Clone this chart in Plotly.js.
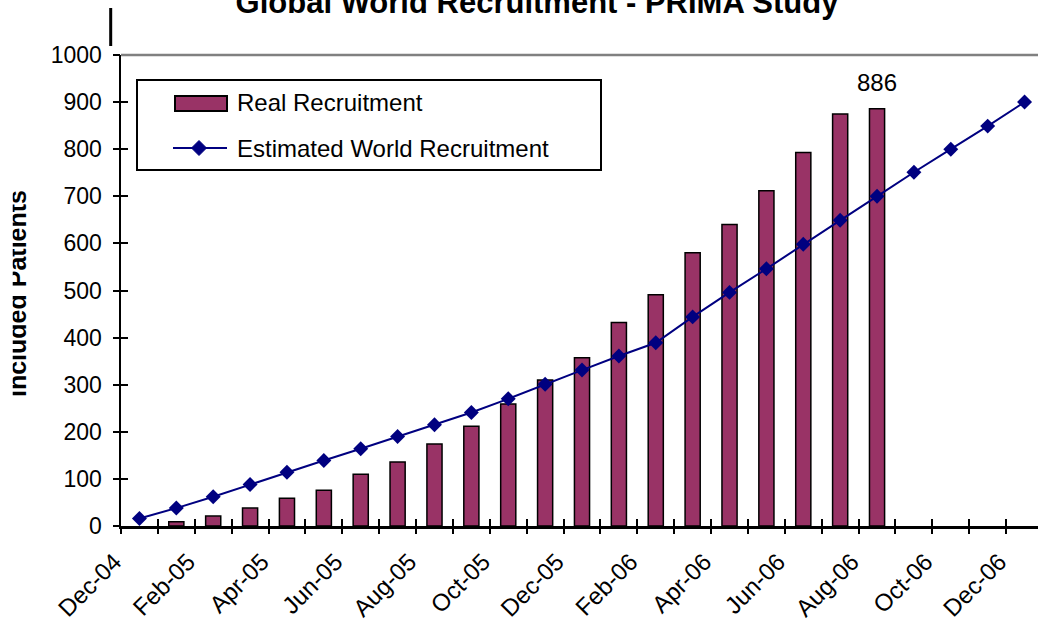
<!DOCTYPE html>
<html>
<head>
<meta charset="utf-8">
<script src="https://cdn.plot.ly/plotly-3.0.1.min.js"></script>
<style>
  html, body { margin: 0; padding: 0; background: #ffffff; overflow: hidden; }
  #chart { width: 1038px; height: 627px; }
</style>
</head>
<body>
<div id="chart"></div>
<script>
// ---- Data ----
const months = ['Dec-04','Jan-05','Feb-05','Mar-05','Apr-05','May-05','Jun-05','Jul-05','Aug-05','Sep-05','Oct-05','Nov-05',
                'Dec-05','Jan-06','Feb-06','Mar-06','Apr-06','May-06','Jun-06','Jul-06','Aug-06','Sep-06','Oct-06','Nov-06','Dec-06'];
const realRecruitment = [null, 9, 21, 38, 59, 76, 110, 136, 174, 212, 259, 310,
                         357, 432, 491, 580, 640, 712, 793, 875, 886, null, null, null, null];
const estimatedRecruitment = [16, 38, 62, 88, 114, 139, 164, 190, 215, 241, 270, 301,
                              331, 361, 389, 444, 496, 546, 598, 649, 700, 751, 800, 849, 900];
const yTickValues = [0, 100, 200, 300, 400, 500, 600, 700, 800, 900, 1000];
const seriesNames = ['Real Recruitment', 'Estimated World Recruitment'];
const chartTitle = 'Global World Recruitment - PRIMA Study';
const yTitle = 'Included Patients';

// ---- Style ----
const FONT = '"Liberation Sans", Arial, sans-serif';
const BAR_COLOR = '#993366';
const LINE_COLOR = '#000080';
const W = 1038, H = 627;
const M = { l: 121, r: 0, t: 55, b: 101 };
const PW = W - M.l - M.r, PH = H - M.t - M.b;
const px2x = (px) => (px - M.l) / PW;
const px2y = (py) => (H - M.b - py) / PH;
const TICK = 7;

// month positions on the (linear) category scale
const monthIdx = months.map((_, i) => i);
const labelIdx = monthIdx.filter(i => i % 2 === 0);
const labelText = labelIdx.map(i => months[i]);
const boundaries = monthIdx.map(i => i - 0.5);
const xRange = [-0.5, months.length - 0.5 - 5 / 36.875];

// last real value for the data label
let lastIdx = -1;
realRecruitment.forEach((v, i) => { if (v !== null) lastIdx = i; });

const traces = [
  {
    type: 'bar', name: seriesNames[0], x: monthIdx, y: realRecruitment,
    width: 0.41, customdata: months,
    marker: { color: BAR_COLOR, line: { color: '#000000', width: 1.5 } },
    showlegend: false, hovertemplate: '%{customdata}: %{y}<extra></extra>'
  },
  {
    type: 'scatter', mode: 'lines+markers', name: seriesNames[1], x: monthIdx, y: estimatedRecruitment,
    customdata: months,
    line: { color: LINE_COLOR, width: 2 },
    marker: { symbol: 'diamond', size: 11.5, color: LINE_COLOR },
    showlegend: false, cliponaxis: false, hovertemplate: '%{customdata}: %{y}<extra></extra>'
  },
  // invisible helpers so the overlay axes (outer tick halves, month labels) get drawn
  { type: 'scatter', mode: 'markers', x: [0], y: [0], xaxis: 'x2', yaxis: 'y',
    marker: { opacity: 0 }, showlegend: false, hoverinfo: 'skip' },
  { type: 'scatter', mode: 'markers', x: [0], y: [0], xaxis: 'x3', yaxis: 'y',
    marker: { opacity: 0 }, showlegend: false, hoverinfo: 'skip' },
  { type: 'scatter', mode: 'markers', x: [0], y: [0], xaxis: 'x', yaxis: 'y2',
    marker: { opacity: 0 }, showlegend: false, hoverinfo: 'skip' }
];

const layout = {
  width: W, height: H,
  margin: M,
  paper_bgcolor: '#ffffff', plot_bgcolor: '#ffffff',
  font: { family: FONT, color: '#000000', size: 23 },
  showlegend: false,
  bargap: 0,
  title: {
    text: '<b>' + chartTitle + '</b>',
    font: { family: FONT, size: 31, color: '#000000' },
    xref: 'container', yref: 'container',
    x: 537 / W, xanchor: 'center',
    y: 1 - 2.5 / H, yanchor: 'middle'
  },
  // main x axis: line + inner half of the tick marks at month boundaries
  xaxis: {
    type: 'linear', range: xRange, autorange: false,
    tickmode: 'array', tickvals: boundaries, showticklabels: false,
    ticks: 'inside', ticklen: TICK, tickwidth: 2, tickcolor: '#000000',
    showline: true, linecolor: '#000000', linewidth: 2.5,
    showgrid: false, zeroline: false, fixedrange: true
  },
  // outer half of the tick marks
  xaxis2: {
    overlaying: 'x', anchor: 'y', side: 'bottom', type: 'linear', range: xRange, autorange: false,
    tickmode: 'array', tickvals: boundaries, showticklabels: false,
    ticks: 'outside', ticklen: TICK, tickwidth: 2, tickcolor: '#000000',
    showline: false, showgrid: false, zeroline: false, fixedrange: true
  },
  // month labels, every second month
  xaxis3: {
    overlaying: 'x', anchor: 'y', side: 'bottom', type: 'linear', range: xRange, autorange: false,
    tickmode: 'array', tickvals: labelIdx, ticktext: labelText, ticks: '', tickangle: -45,
    tickfont: { family: FONT, size: 24, color: '#000000' },
    ticklabelstandoff: 16, ticklabelshift: -25,
    showline: false, showgrid: false, zeroline: false, fixedrange: true
  },
  yaxis: {
    range: [0, 1000], autorange: false, tickmode: 'array', tickvals: yTickValues,
    ticks: 'inside', ticklen: TICK, tickwidth: 2, tickcolor: '#000000',
    tickfont: { family: FONT, size: 23, color: '#000000' },
    ticklabelstandoff: 12,
    showline: true, linecolor: '#000000', linewidth: 2.5,
    showgrid: false, zeroline: false, fixedrange: true
  },
  yaxis2: {
    overlaying: 'y', anchor: 'x', side: 'left',
    range: [0, 1000], autorange: false, tickmode: 'array', tickvals: yTickValues,
    ticks: 'outside', ticklen: TICK, tickwidth: 2, tickcolor: '#000000',
    showticklabels: false, showgrid: false, zeroline: false, showline: false, fixedrange: true
  },
  shapes: [
    // gray top border of plot area
    { type: 'line', xref: 'paper', yref: 'paper', x0: 0, x1: 1, y0: 1, y1: 1,
      line: { color: '#808080', width: 2.5 }, layer: 'below' },
    // stray vertical bar (text cursor) seen above the y axis
    { type: 'line', xref: 'paper', yref: 'paper', x0: px2x(110.7), x1: px2x(110.7), y0: px2y(46), y1: px2y(8),
      line: { color: '#000000', width: 3 } },
    // legend box
    { type: 'rect', xref: 'paper', yref: 'paper', x0: px2x(137), x1: px2x(601), y0: px2y(170), y1: px2y(80),
      line: { color: '#000000', width: 2 }, fillcolor: '#ffffff', layer: 'above' },
    // legend: bar swatch
    { type: 'rect', xref: 'paper', yref: 'paper', x0: px2x(175), x1: px2x(227), y0: px2y(111), y1: px2y(96),
      line: { color: '#000000', width: 2 }, fillcolor: BAR_COLOR, layer: 'above' },
    // legend: line swatch
    { type: 'line', xref: 'paper', yref: 'paper', x0: px2x(173), x1: px2x(227), y0: px2y(148), y1: px2y(148),
      line: { color: LINE_COLOR, width: 2 }, layer: 'above' },
    // legend: diamond marker
    { type: 'path', xref: 'paper', yref: 'paper', layer: 'above',
      path: 'M ' + px2x(199) + ',' + px2y(140.5) + ' L ' + px2x(206.5) + ',' + px2y(148) +
            ' L ' + px2x(199) + ',' + px2y(155.5) + ' L ' + px2x(191.5) + ',' + px2y(148) + ' Z',
      fillcolor: LINE_COLOR, line: { color: LINE_COLOR, width: 1 } }
  ],
  annotations: [
    { xref: 'paper', yref: 'paper', x: px2x(235), y: px2y(103), xanchor: 'left', yanchor: 'middle',
      text: seriesNames[0], showarrow: false, font: { family: FONT, size: 24, color: '#000000' } },
    { xref: 'paper', yref: 'paper', x: px2x(235), y: px2y(148), xanchor: 'left', yanchor: 'middle',
      text: seriesNames[1], showarrow: false, font: { family: FONT, size: 24, color: '#000000' } },
    // data label above the last real bar
    { xref: 'x', yref: 'y', x: lastIdx, y: realRecruitment[lastIdx], xanchor: 'center', yanchor: 'bottom',
      yshift: 11, text: String(realRecruitment[lastIdx]), showarrow: false,
      font: { family: FONT, size: 24, color: '#000000' } },
    // y axis title
    { xref: 'paper', yref: 'paper', x: px2x(17), y: px2y(294), xanchor: 'center', yanchor: 'middle',
      text: '<b>' + yTitle + '</b>', textangle: -90, showarrow: false,
      font: { family: FONT, size: 25, color: '#000000' } }
  ]
};

Plotly.newPlot('chart', traces, layout, { displayModeBar: false, staticPlot: true }).then(function (gd) {
  // the reference clips the rotated axis title at its left side
  try {
    const anns = gd.querySelectorAll('g.annotation');
    const target = anns[anns.length - 1];
    const ownerSvg = target.ownerSVGElement;
    const NS = 'http://www.w3.org/2000/svg';
    let defs = ownerSvg.querySelector('defs');
    if (!defs) { defs = document.createElementNS(NS, 'defs'); ownerSvg.insertBefore(defs, ownerSvg.firstChild); }
    const cp = document.createElementNS(NS, 'clipPath');
    cp.setAttribute('id', 'ytitleclip');
    cp.setAttribute('clipPathUnits', 'userSpaceOnUse');
    const r = document.createElementNS(NS, 'rect');
    r.setAttribute('x', '12.7'); r.setAttribute('y', '0');
    r.setAttribute('width', '200'); r.setAttribute('height', String(H));
    cp.appendChild(r); defs.appendChild(cp);
    target.setAttribute('clip-path', 'url(#ytitleclip)');
  } catch (e) { /* leave title unclipped */ }
});
</script>
</body>
</html>
